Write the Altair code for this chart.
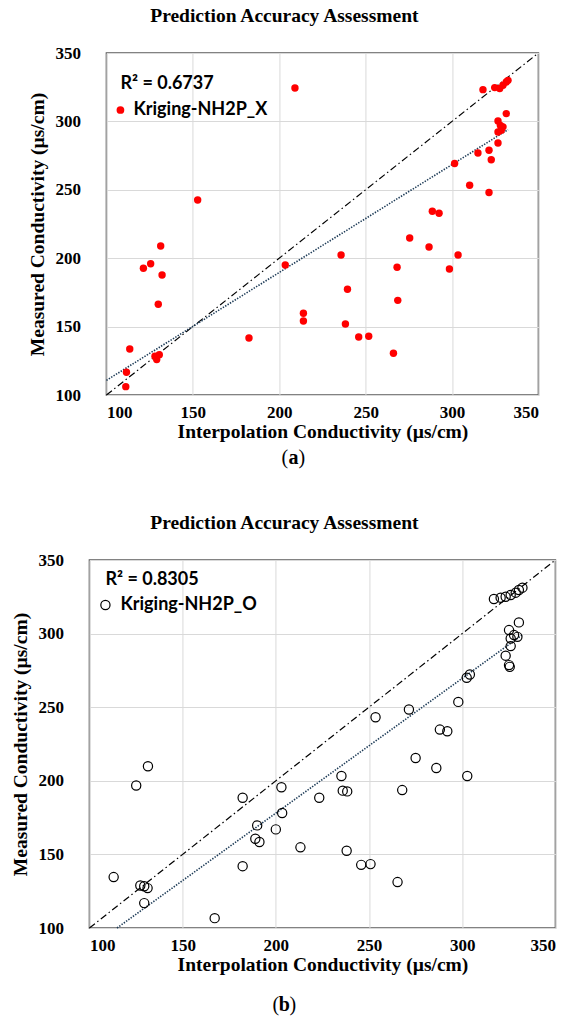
import altair as alt
import pandas as pd

# ---------------- data ----------------
ticks = [100, 150, 200, 250, 300, 350]

# (a) Kriging-NH2P_X
interp_a = [209.1, 317.9, 324.7, 327.6, 329.5, 331.4, 332.4, 331.4, 326.6, 328.0,
            329.5, 326.6, 328.5, 326.6, 315.0, 321.4, 322.7, 301.5, 310.2, 321.4,
            152.8, 288.6, 292.5, 275.5, 286.7, 131.4, 235.8, 303.5, 203.5, 125.6,
            121.4, 132.2, 268.2, 298.5, 239.5, 268.6, 130.0, 214.0, 214.0, 238.3,
            182.5, 246.0, 251.8, 266.1, 113.5, 128.1, 130.6, 129.1, 111.6, 111.2]
meas_a = [324.4, 323.2, 324.7, 324.0, 326.4, 328.8, 330.0, 305.7, 300.3, 297.0,
          296.0, 292.3, 293.5, 284.2, 276.9, 278.9, 272.0, 269.2, 253.3, 248.0,
          242.5, 234.3, 232.8, 214.8, 208.2, 208.9, 202.3, 202.3, 195.0, 196.0,
          192.6, 187.7, 193.4, 192.1, 177.3, 169.2, 166.3, 159.7, 154.1, 151.9,
          141.7, 142.4, 142.9, 130.5, 133.6, 128.3, 129.5, 125.9, 116.6, 106.1]

# (b) Kriging-NH2P_O
interp_b = [317.0, 320.6, 323.3, 326.0, 328.7, 330.4, 332.3, 330.4, 325.1, 327.8,
            326.0, 329.6, 326.0, 323.3, 325.1, 325.5, 302.4, 304.1, 297.9, 271.4,
            253.5, 288.0, 292.0, 275.0, 286.1, 302.7, 235.2, 131.4, 125.1, 203.0,
            235.9, 238.3, 267.8, 182.2, 223.3, 203.4, 190.0, 200.0, 189.0, 191.2,
            213.2, 238.0, 182.2, 245.8, 250.8, 265.3, 113.0, 127.3, 129.4, 131.2,
            129.4, 167.2]
meas_b = [323.5, 324.4, 325.0, 326.2, 327.8, 329.6, 331.2, 307.6, 302.4, 299.0,
          296.7, 297.8, 291.5, 285.0, 278.6, 277.4, 270.0, 272.2, 253.6, 248.4,
          243.2, 234.8, 233.7, 215.5, 208.7, 203.3, 203.3, 209.9, 196.8, 195.6,
          193.3, 192.8, 193.7, 188.5, 188.5, 178.1, 169.7, 167.0, 160.6, 158.4,
          154.8, 152.5, 142.0, 142.9, 143.4, 131.2, 134.6, 128.9, 128.4, 127.1,
          116.9, 106.7]

one_to_one = [100, 350]
trend_a_x = [100.0, 332.4]
trend_a_y = [110.7, 294.0]
trend_b_x = [114.8, 332.3]
trend_b_y = [100.0, 299.2]

r2_a = "R² = 0.6737"
r2_b = "R² = 0.8305"
name_a = "Kriging-NH2P_X"
name_b = "Kriging-NH2P_O"

SERIF = "Liberation Serif"
SANS = "Lato"


def panel(ix, ms, tx, ty, r2, name, width, height, filled, letter,
          legx, legy, r2x, r2y, capx, capy):
    pts = pd.DataFrame({"interp": ix, "meas": ms, "series": [name] * len(ix)})
    diag = pd.DataFrame({"interp": one_to_one, "meas": one_to_one})
    trend = pd.DataFrame({"interp": tx, "meas": ty})

    xs = alt.Scale(domain=[100, 350], nice=False, zero=False)
    ys = alt.Scale(domain=[100, 350], nice=False, zero=False)
    xax = alt.Axis(values=ticks, title="Interpolation Conductivity (µs/cm)",
                   labelPadding=9, titlePadding=2)
    yax = alt.Axis(values=ticks, title="Measured Conductivity (µs/cm)",
                   labelPadding=26, titlePadding=7)

    base_x = alt.X("interp:Q", scale=xs, axis=xax)
    base_y = alt.Y("meas:Q", scale=ys, axis=yax)

    diag_l = alt.Chart(diag).mark_line(color="black", strokeWidth=1.2,
                                       strokeDash=[7, 3, 1.5, 3]).encode(x=base_x, y=base_y)
    trend_l = alt.Chart(trend).mark_line(color="#1d3b57", strokeWidth=1.6,
                                         strokeDash=[1.4, 1.4]).encode(x=base_x, y=base_y)

    leg_common = dict(title=None, orient="none", legendX=legx, legendY=legy,
                      labelFont=SANS, labelFontSize=18, labelFontWeight="bold",
                      labelColor="black", symbolType="circle", padding=0)
    if filled:
        pts_l = alt.Chart(pts).mark_circle(size=55, opacity=1).encode(
            x=base_x, y=base_y,
            color=alt.Color("series:N", scale=alt.Scale(domain=[name], range=["#ff0000"]),
                            legend=alt.Legend(labelOffset=4, symbolSize=60, **leg_common)))
    else:
        pts_l = alt.Chart(pts).mark_point(shape="circle", filled=False, size=85,
                                          strokeWidth=1.2, opacity=1).encode(
            x=base_x, y=base_y,
            color=alt.Color("series:N", scale=alt.Scale(domain=[name], range=["#000000"]),
                            legend=alt.Legend(labelOffset=6, symbolSize=85,
                                              symbolFillColor="white", symbolStrokeWidth=1.2,
                                              **leg_common)))

    r2_t = alt.Chart(pd.DataFrame({"t": [r2]})).mark_text(
        font=SANS, fontSize=18, fontWeight="bold", align="left", baseline="middle",
        color="black").encode(text="t:N", x=alt.value(r2x), y=alt.value(r2y))

    caps = []
    for t, dx, w in zip(["(", letter, ")"], [-8.5, 0, 8.5], ["normal", "bold", "normal"]):
        caps.append(alt.Chart(pd.DataFrame({"t": [t]})).mark_text(
            font=SERIF, fontSize=20, fontWeight=w, align="center", baseline="middle",
            color="black").encode(text="t:N", x=alt.value(capx + dx), y=alt.value(capy)))

    return alt.layer(diag_l, trend_l, pts_l, r2_t, *caps).properties(
        width=width, height=height,
        title=alt.TitleParams("Prediction Accuracy Assessment", font=SERIF, fontSize=19.5,
                              fontWeight="bold", anchor="middle", frame="bounds",
                              offset=18, color="black"))


top = panel(interp_a, meas_a, trend_a_x, trend_a_y, r2_a, name_a, 432, 342, True,
            "a", 5, 48, 14, 31, 187, 405)
bottom = panel(interp_b, meas_b, trend_b_x, trend_b_y, r2_b, name_b, 466, 368, False,
               "b", 7, 36, 16, 20, 195, 445)

chart = alt.vconcat(top, bottom, spacing=42, center=True).resolve_scale(
    color="independent").resolve_legend(color="independent").properties(
    padding={"left": 10, "top": 4, "right": 2, "bottom": 2}
).configure_view(stroke="#595959", strokeWidth=1.5).configure_axis(
    grid=True, gridColor="#d9d9d9", gridWidth=1, ticks=False, domain=False,
    labelFont=SERIF, labelFontSize=17, labelFontWeight="bold", labelColor="black",
    titleFont=SERIF, titleFontSize=19.5, titleFontWeight="bold", titleColor="black"
)

chart.save("out.html", embed_options={"renderer": "svg", "actions": False})
